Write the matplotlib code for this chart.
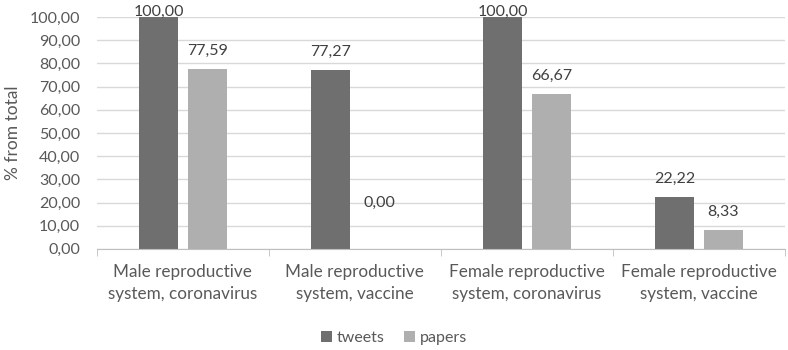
import numpy as np
import matplotlib.pyplot as plt

# data
categories = ["Male reproductive\nsystem, coronavirus", "Male reproductive\nsystem, vaccine",
              "Female reproductive\nsystem, coronavirus", "Female reproductive\nsystem, vaccine"]
tweets = [100.00, 77.27, 100.00, 22.22]
papers = [77.59, 0.00, 66.67, 8.33]
y_ticks = np.arange(0, 101, 10)

text_col = "#595959"
plt.rcParams["font.family"] = ["Lato", "DejaVu Sans"]

fig = plt.figure(figsize=(7.88, 3.5), dpi=100)
ax = fig.add_axes([0.123, 0.289, 0.873, 0.662])

x = np.arange(len(categories))
w = 0.225
off = 0.142
b1 = ax.bar(x - off, tweets, w, color="#6f6f6f", label="tweets", zorder=2)
b2 = ax.bar(x + off, papers, w, color="#afafaf", label="papers", zorder=2)


def fmt(v):
    return f"{v:.2f}".replace(".", ",")


for bars, vals in ((b1, tweets), (b2, papers)):
    for r, v in zip(bars, vals):
        if v >= 99:
            y, dy = v, -1
        elif v == 0:
            y, dy = 17, 0
        else:
            y, dy = v, 8
        ax.annotate(fmt(v), (r.get_x() + r.get_width() / 2, y), xytext=(0, dy),
                    textcoords="offset points", ha="center", va="bottom",
                    fontsize=11.5, color="#404040", annotation_clip=False)

ax.set_xlim(-0.5, len(categories) - 0.5)
ax.set_ylim(0, 100)
ax.set_yticks(y_ticks)
ax.set_yticklabels([fmt(v) for v in y_ticks], fontsize=11.5, color=text_col)
ax.set_xticks(x)
ax.set_xticklabels(categories, fontsize=12.3, color=text_col, linespacing=1.45)
ax.tick_params(axis="x", length=0, pad=11)
ax.tick_params(axis="y", length=0, pad=12)
ax.set_xticks(np.arange(-0.5, len(categories)), minor=True)
ax.tick_params(axis="x", which="minor", length=5, color="#bfbfbf")

ax.grid(axis="y", color="#d9d9d9", lw=1, zorder=0)
for s in ("top", "right", "left"):
    ax.spines[s].set_visible(False)
ax.spines["bottom"].set_color("#bfbfbf")
ax.set_ylabel("% from total", fontsize=12.5, color=text_col, labelpad=6)

fig.legend(loc="center", bbox_to_anchor=(0.5, 0.035), ncol=2, frameon=False,
           fontsize=11.5, labelcolor=text_col, handlelength=0.7, handleheight=0.7,
           handletextpad=0.3, columnspacing=1.2)

fig.savefig("out.png", dpi=100)
